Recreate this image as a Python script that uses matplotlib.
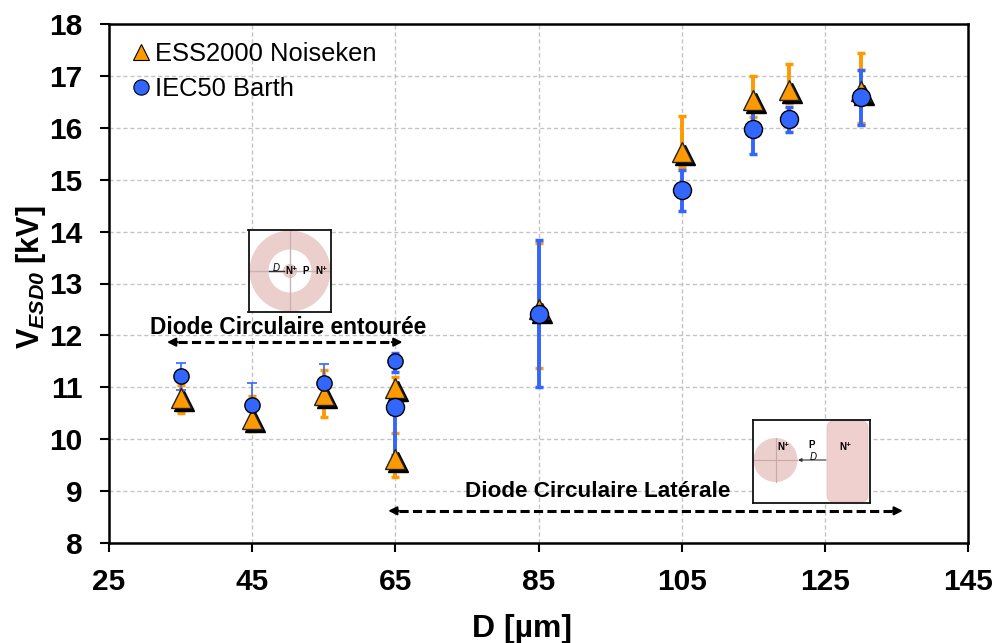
import numpy as np
import matplotlib
matplotlib.use('Agg')
import matplotlib.pyplot as plt
from matplotlib.lines import Line2D
from matplotlib.patches import Circle, FancyBboxPatch
from matplotlib.transforms import offset_copy

plt.rcParams['font.family'] = ['Liberation Sans', 'DejaVu Sans']
plt.rcParams['mathtext.fontset'] = 'custom'
plt.rcParams['mathtext.bf'] = 'Liberation Sans:bold'
plt.rcParams['mathtext.bfit'] = 'Liberation Sans:italic:bold'

# Donnees
d_um = np.array([35, 45, 55, 65, 65, 85, 105, 115, 120, 130])

ess_val = np.array([10.80, 10.39, 10.85, 10.98, 9.62, 12.50, 15.54, 16.54, 16.73, 16.70])
ess_up = np.array([11.05, 10.83, 11.33, 11.20, 10.12, 13.78, 16.23, 17.00, 17.22, 17.44])
ess_low = np.array([10.51, 10.16, 10.43, 10.75, 9.27, 11.37, 15.25, 16.20, 16.48, 16.10])

iec_val = np.array([11.22, 10.66, 11.08, 11.50, 10.62, 12.42, 14.80, 15.98, 16.16, 16.59])
iec_up = np.array([11.47, 11.08, 11.45, 11.67, 10.90, 13.83, 15.19, 16.34, 16.40, 17.12])
iec_low = np.array([10.95, 10.30, 10.80, 11.30, 9.70, 11.00, 14.40, 15.50, 15.92, 16.05])

x_ticks = [25, 45, 65, 85, 105, 125, 145]
y_ticks = [8, 9, 10, 11, 12, 13, 14, 15, 16, 17, 18]

ORANGE = '#ff9900'
BLUE = '#3366ff'
PINK = '#ebcfcd'
W, H = 998, 643

fig = plt.figure(figsize=(W / 100, H / 100), dpi=100)
ax = fig.add_axes([109 / W, 1 - 543 / H, (968 - 109) / W, (543 - 24) / H])
ax.set_xlim(25, 145)
ax.set_ylim(8, 18)
ax.set_xticks(x_ticks)
ax.set_yticks(y_ticks)
ax.grid(True, color='#c4c4c4', linestyle=(0, (3, 2)), linewidth=1)
ax.set_axisbelow(True)
for s in ax.spines.values():
    s.set_linewidth(1.8)
ax.tick_params(length=6.5, width=1.5, labelsize=21.5)
ax.tick_params(axis='y', pad=12.5)
ax.tick_params(axis='x', pad=11.5)
for lab in ax.get_xticklabels() + ax.get_yticklabels():
    lab.set_fontweight('bold')

ax.set_xlabel('D [µm]', fontsize=23, fontweight='bold', labelpad=13, x=0.481)
ax.set_ylabel(r'$\mathbf{V}_{\mathbfit{ESD0}}$ [kV]', fontsize=22, fontweight='bold', labelpad=1.2, y=0.512)

# Barres d'erreur
thin = np.array([True, True, True, False, False, False, False, False, False, False])
ax.errorbar(d_um, ess_val, yerr=[ess_val - ess_low, ess_up - ess_val], fmt='none',
            ecolor=ORANGE, elinewidth=2.8, capsize=3, capthick=2.5, zorder=3)
ax.errorbar(d_um[thin], iec_val[thin], yerr=[iec_val[thin] - iec_low[thin], iec_up[thin] - iec_val[thin]],
            fmt='none', ecolor=BLUE, elinewidth=1.2, capsize=3.5, capthick=1.2, zorder=3.1)
ax.errorbar(d_um[~thin], iec_val[~thin], yerr=[iec_val[~thin] - iec_low[~thin], iec_up[~thin] - iec_val[~thin]],
            fmt='none', ecolor=BLUE, elinewidth=2.8, capsize=3, capthick=2.5, zorder=3.1)

# Triangles avec ombre noire decalee
shadow = offset_copy(ax.transData, fig=fig, x=2.2, y=-2.2, units='points')
ax.plot(d_um, ess_val, linestyle='none', marker='^', ms=15, mfc='k', mec='k', mew=1,
        zorder=3.9, transform=shadow)
ax.plot(d_um, ess_val, linestyle='none', marker='^', ms=15, mfc=ORANGE, mec='#222222', mew=1, zorder=4)

# Cercles : petits a gauche, plus grands ensuite
small = np.array([True, True, True, True, False, False, False, False, False, False])
ax.plot(d_um[small], iec_val[small], linestyle='none', marker='o', ms=11, mfc=BLUE, mec='k', mew=1, zorder=5)
ax.plot(d_um[~small], iec_val[~small], linestyle='none', marker='o', ms=13, mfc=BLUE, mec='k', mew=1, zorder=5)

# Legende
handles = [Line2D([], [], linestyle='none', marker='^', ms=11, mfc=ORANGE, mec='k', mew=0.8),
           Line2D([], [], linestyle='none', marker='o', ms=11, mfc=BLUE, mec='k', mew=0.8)]
ax.legend(handles, ['ESS2000 Noiseken', 'IEC50 Barth'], loc='upper left', frameon=False,
          fontsize=18.4, handletextpad=-0.44, labelspacing=0.42, borderaxespad=0,
          bbox_to_anchor=(-0.0045, 0.985))


def dash_arrow(x0, x1, y):
    ax.plot([x0 + 1.5, x1 - 1.5], [y, y], color='k', linewidth=2.2, linestyle=(0, (3, 1.4)), zorder=6)
    for a, b in ((x0 + 1.5, x0), (x1 - 1.5, x1)):
        ax.annotate('', xy=(b, y), xytext=(a, y), zorder=6,
                    arrowprops=dict(arrowstyle='-|>,head_length=0.5,head_width=0.25', color='k',
                                    lw=1.5, shrinkA=0, shrinkB=0))


dash_arrow(33.1, 66.0, 11.87)
dash_arrow(64.0, 135.9, 8.62)
ax.text(50.0, 12.16, 'Diode Circulaire entourée', fontsize=16.4, fontweight='bold', ha='center', va='center', zorder=6)
ax.text(74.7, 9.0, 'Diode Circulaire Latérale', fontsize=16.2, fontweight='bold', ha='left', va='center', zorder=6)


def inset(left, top, right, bottom):
    a = fig.add_axes([left / W, 1 - bottom / H, (right - left) / W, (bottom - top) / H], zorder=8)
    a.set_xlim(left, right)
    a.set_ylim(bottom, top)
    a.set_xticks([])
    a.set_yticks([])
    for s in a.spines.values():
        s.set_linewidth(1.3)
        s.set_color('#111111')
    return a


# Schema diode entouree
a1 = inset(248.5, 230.5, 330.5, 312)
a1.add_patch(Circle((290, 271), 40.5, fc=PINK, ec='none'))
a1.add_patch(Circle((290, 271), 21.5, fc='white', ec='none'))
a1.add_patch(Circle((290, 271), 6.5, fc=PINK, ec='#d8b8b6', lw=0.5))
a1.plot([250, 330], [271, 271], color='#c9b4b3', lw=1)
a1.plot([290, 290], [231, 311], color='#c9b4b3', lw=1)
a1.plot([269, 284], [271, 271], color='#333333', lw=1)
a1.text(276.5, 268, 'D', fontsize=7, style='italic', ha='center', va='center')
a1.text(292, 271.5, 'N⁺', fontsize=7, fontweight='bold', ha='center', va='center')
a1.text(306, 271.5, 'P', fontsize=7, fontweight='bold', ha='center', va='center')
a1.text(321, 271.5, 'N⁺', fontsize=7, fontweight='bold', ha='center', va='center')

# Schema diode laterale
a2 = inset(753, 420, 869.5, 503)
a2.add_patch(Circle((775.5, 460), 22, fc=PINK, ec='none'))
a2.plot([754, 797], [460, 460], color='#c9a9a7', lw=0.8)
a2.plot([775.5, 775.5], [438, 482], color='#c9a9a7', lw=0.8)
a2.add_patch(FancyBboxPatch((833, 427), 29, 69, boxstyle='round,pad=6,rounding_size=7', fc='#efd0ce', ec='#e2bdbb', lw=0.5))
a2.annotate('', xy=(798, 460), xytext=(826, 460),
            arrowprops=dict(arrowstyle='-|>,head_length=0.2,head_width=0.1', color='#333333', lw=0.8, shrinkA=0, shrinkB=0))
a2.text(783.5, 447, 'N⁺', fontsize=7, fontweight='bold', ha='center', va='center')
a2.text(812, 445, 'P', fontsize=7, fontweight='bold', ha='center', va='center')
a2.text(813.5, 457, 'D', fontsize=7, style='italic', ha='center', va='center')
a2.text(845, 447, 'N⁺', fontsize=7, fontweight='bold', ha='center', va='center')

fig.savefig('out.png', dpi=100)
